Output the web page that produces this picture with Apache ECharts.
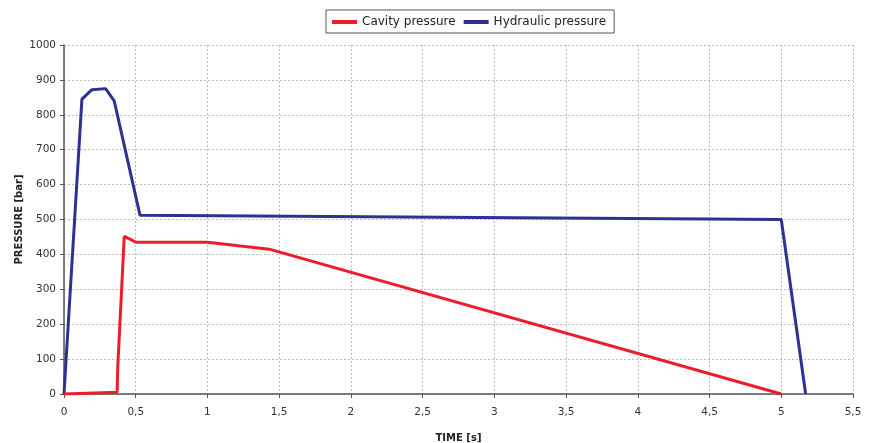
<!DOCTYPE html>
<html><head><meta charset="utf-8">
<script src="https://cdn.jsdelivr.net/npm/echarts@6/dist/echarts.min.js"></script>
<style>html,body{margin:0;padding:0;background:#fff}#c{width:872px;height:443px}</style>
</head><body><div id="c"></div>
<script>
const seriesNames = ["Cavity pressure", "Hydraulic pressure"];
const cavityTime = [0, 0.37, 0.375, 0.42, 0.5, 1.0, 1.43, 5.0];
const cavityPressure = [0, 5, 80, 452, 435, 435, 415, 0];
const hydraulicTime = [0, 0.125, 0.195, 0.29, 0.35, 0.53, 5.0, 5.17];
const hydraulicPressure = [0, 845, 872, 875, 840, 512, 500, 0];
const xTicks = {min: 0, max: 5.5, interval: 0.5};
const yTicks = {min: 0, max: 1000, interval: 100};

const pair = (xs, ys) => xs.map((x, i) => [x, ys[i]]);
const chart = echarts.init(document.getElementById('c'));
const font = 'DejaVu Sans';
chart.setOption({
  animation: false,
  textStyle: {fontFamily: font},
  legend: {
    top: 10, left: 326,
    borderColor: '#555', borderWidth: 1, padding: [6, 8, 5, 6],
    itemWidth: 25, itemHeight: 4, itemGap: 8,
    textStyle: {fontSize: 12, color: '#222', fontFamily: font},
    data: seriesNames.map(n => ({name: n, icon: 'rect'}))
  },
  grid: {left: 64, right: 19, top: 45, bottom: 49, containLabel: false, outerBoundsMode: 'none'},
  xAxis: {
    type: 'value', min: xTicks.min, max: xTicks.max, interval: xTicks.interval,
    name: 'TIME [s]', nameLocation: 'middle', nameGap: 39, nameMoveOverlap: false,
    nameTextStyle: {fontWeight: 'bold', fontSize: 10, color: '#222'},
    axisLine: {lineStyle: {color: '#555', width: 1.5}},
    axisTick: {show: true, length: 4, lineStyle: {color: '#555'}},
    axisLabel: {fontSize: 10.5, color: '#333', margin: 13, formatter: v => String(v).replace('.', ',')},
    splitLine: {show: true, lineStyle: {color: '#bbb', type: [2, 2]}}
  },
  yAxis: {
    type: 'value', min: yTicks.min, max: yTicks.max, interval: yTicks.interval,
    name: 'PRESSURE [bar]', nameLocation: 'middle', nameGap: 40, nameRotate: 90, nameMoveOverlap: false,
    nameTextStyle: {fontWeight: 'bold', fontSize: 10, color: '#222'},
    axisLine: {show: true, lineStyle: {color: '#555', width: 1.5}},
    axisTick: {show: true, length: 4, lineStyle: {color: '#555'}},
    axisLabel: {fontSize: 10.5, color: '#333', margin: 8, formatter: v => String(v)},
    splitLine: {show: true, lineStyle: {color: '#bbb', type: [2, 2]}}
  },
  series: [
    {name: seriesNames[0], type: 'line', data: pair(cavityTime, cavityPressure),
     showSymbol: false, lineStyle: {color: '#ee1c2a', width: 3}, itemStyle: {color: '#ee1c2a'}, z: 3},
    {name: seriesNames[1], type: 'line', data: pair(hydraulicTime, hydraulicPressure),
     showSymbol: false, lineStyle: {color: '#2e3192', width: 3}, itemStyle: {color: '#2e3192'}, z: 2}
  ]
});
</script></body></html>
